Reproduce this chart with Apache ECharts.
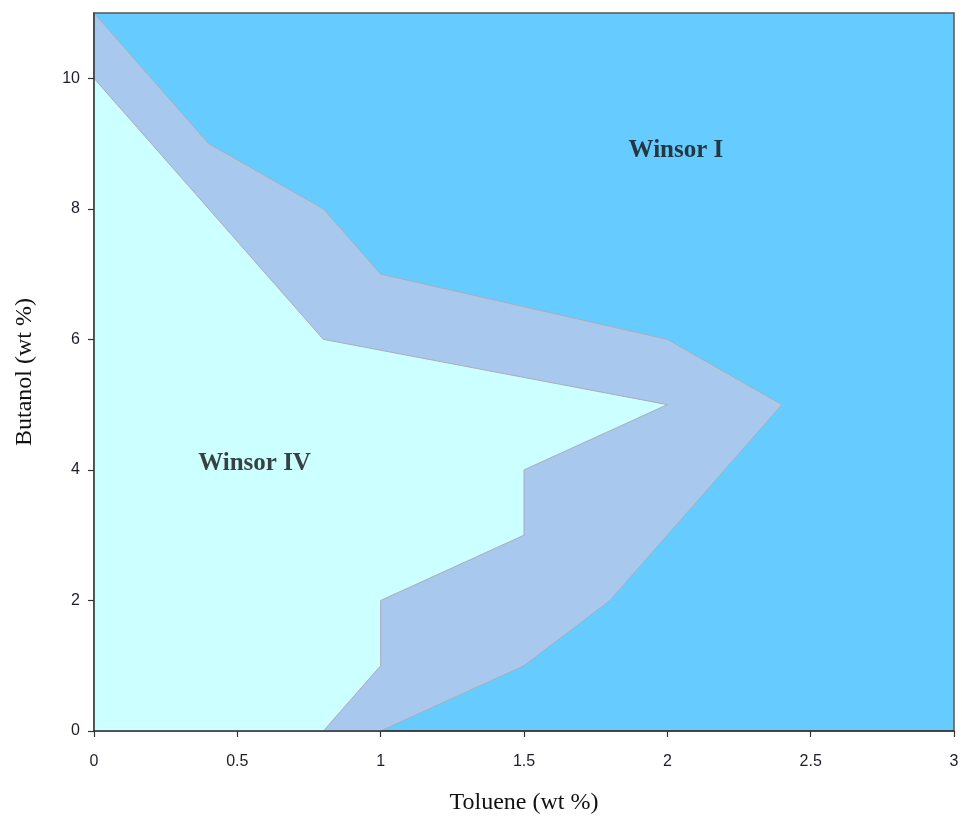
<!DOCTYPE html>
<html>
<head>
<meta charset="utf-8">
<script src="https://cdn.jsdelivr.net/npm/echarts@6/dist/echarts.min.js"></script>
<style>
  html, body { margin: 0; padding: 0; background: #ffffff; }
  #chart { width: 962px; height: 818px; }
</style>
</head>
<body>
<div id="chart"></div>
<script>
// Phase boundaries of the toluene / butanol system (wt %)
// Outer boundary: separates the transition band from Winsor I
const outerToluene = [0, 0.4, 0.8, 1, 2, 2.4, 1.8, 1.5, 1];
const outerButanol = [11, 9, 8, 7, 6, 5, 2, 1, 0];
// Inner boundary: encloses the Winsor IV region
const innerToluene = [0, 0.8, 2, 1.5, 1.5, 1, 1, 0.8];
const innerButanol = [10, 6, 5, 4, 3, 2, 1, 0];

// Region labels
const regionNames = ['Winsor I', 'Winsor IV'];
const regionToluene = [2.03, 0.56];
const regionButanol = [8.9, 4.1];

// Axis ticks
const xTicks = [0, 0.5, 1, 1.5, 2, 2.5, 3];
const yTicks = [0, 2, 4, 6, 8, 10];

const colors = {
  winsorI: '#66CCFF',
  band: '#A8C8EE',
  winsorIV: '#CCFFFF',
  edge: '#A9AEB8'
};

// Closed polygon: boundary plus the origin corner (axes)
function regionPolygon(xs, ys) {
  const pts = xs.map((x, i) => [x, ys[i]]);
  pts.push([0, 0]);
  return pts;
}

const bandPts = regionPolygon(outerToluene, outerButanol);
const innerPts = regionPolygon(innerToluene, innerButanol);

function polygonSeries(pts, fill, z) {
  return {
    type: 'custom',
    z: z,
    silent: true,
    data: [0],
    renderItem: function (params, api) {
      const points = pts.map(p => api.coord(p));
      return {
        type: 'polygon',
        shape: { points: points },
        style: { fill: fill, stroke: colors.edge, lineWidth: 1 }
      };
    }
  };
}

const tickFont = { fontFamily: 'Liberation Sans', fontSize: 16, color: '#1e1e2a' };
const titleFont = { fontFamily: 'Liberation Serif', fontSize: 24, color: '#111' };

const chart = echarts.init(document.getElementById('chart'), null, { renderer: 'canvas' });

chart.setOption({
  animation: false,
  backgroundColor: '#ffffff',
  grid: {
    left: 94, right: 8, top: 13, bottom: 87,
    containLabel: false,
    outerBoundsMode: 'none',
    show: true,
    backgroundColor: colors.winsorI,
    borderColor: '#555555',
    borderWidth: 1.5
  },
  xAxis: {
    type: 'value',
    z: 10,
    min: xTicks[0], max: xTicks[xTicks.length - 1], interval: 0.5,
    name: 'Toluene (wt %)',
    nameLocation: 'middle',
    nameGap: 60,
    nameTextStyle: titleFont,
    axisLine: { show: true, onZero: false, lineStyle: { color: '#333', width: 1.5 } },
    axisTick: { show: true, inside: false, length: 6, lineStyle: { color: '#333', width: 1.2 } },
    axisLabel: Object.assign({ margin: 23 }, tickFont),
    splitLine: { show: false }
  },
  yAxis: {
    type: 'value',
    z: 10,
    min: 0, max: 11, interval: 2,
    name: 'Butanol (wt %)',
    nameLocation: 'middle',
    nameGap: 57,
    nameRotate: 90,
    nameTextStyle: titleFont,
    axisLine: { show: true, onZero: false, lineStyle: { color: '#333', width: 1.5 } },
    axisTick: {
      show: true, inside: false, length: 6, customValues: yTicks,
      lineStyle: { color: '#333', width: 1.2 }
    },
    axisLabel: Object.assign({ margin: 14, customValues: yTicks }, tickFont),
    splitLine: { show: false }
  },
  series: [
    polygonSeries(bandPts, colors.band, 2),
    polygonSeries(innerPts, colors.winsorIV, 3),
    {
      type: 'scatter',
      z: 5,
      silent: true,
      symbolSize: 0,
      data: regionNames.map((n, i) => ({ name: n, value: [regionToluene[i], regionButanol[i]] })),
      label: {
        show: true,
        position: 'inside',
        formatter: '{b}',
        fontFamily: 'Liberation Serif',
        fontSize: 25,
        fontWeight: 'bold',
        color: '#111'
      }
    }
  ]
});
</script>
</body>
</html>
